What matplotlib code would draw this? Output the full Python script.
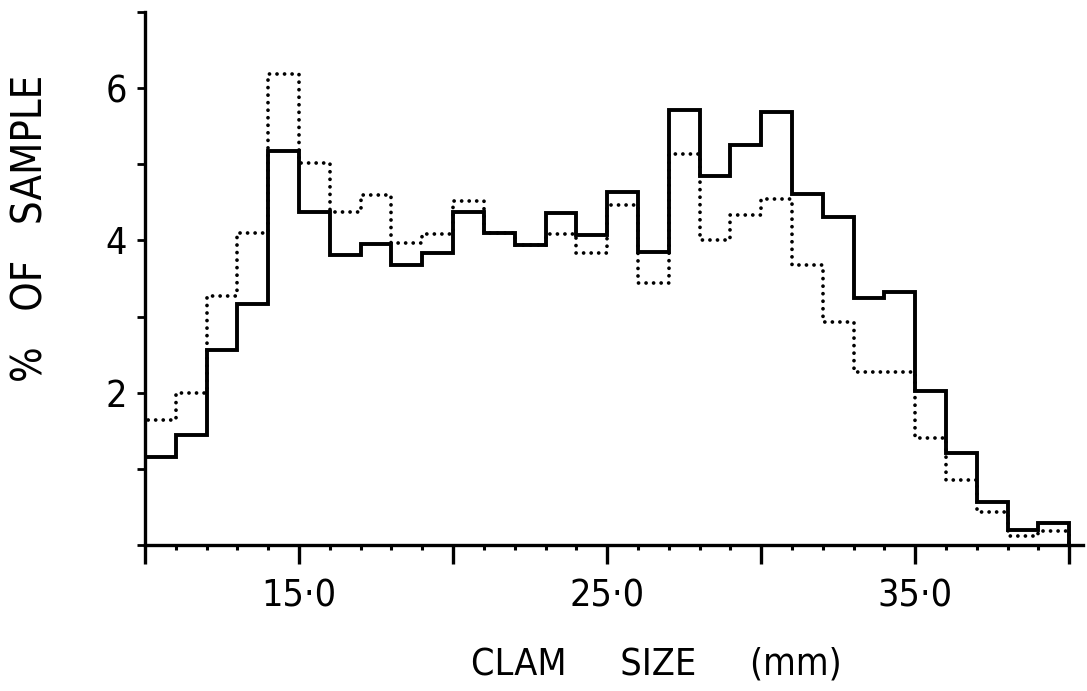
import numpy as np
import matplotlib.pyplot as plt

# clam size classes, 1 mm wide
bin_edges = list(range(10, 41))

# percentage of sample in each size class
solid_pct = [1.15, 1.44, 2.56, 3.17, 5.18, 4.38, 3.81, 3.95, 3.68, 3.84,
             4.37, 4.10, 3.94, 4.36, 4.07, 4.64, 3.85, 5.71, 4.85, 5.26,
             5.69, 4.61, 4.31, 3.25, 3.32, 2.02, 1.21, 0.57, 0.20, 0.29]
dotted_pct = [1.64, 2.00, 3.27, 4.10, 6.18, 5.02, 4.38, 4.60, 3.97, 4.09,
              4.52, 4.10, 3.94, 4.09, 3.83, 4.46, 3.44, 5.13, 4.01, 4.34,
              4.55, 3.68, 2.93, 2.27, 2.27, 1.40, 0.86, 0.43, 0.12, 0.19]

x_major = [10, 15, 20, 25, 30, 35, 40]
x_labels = ['', '15\u00b70', '', '25\u00b70', '', '35\u00b70', '']
y_ticks = [0, 1, 2, 3, 4, 5, 6, 7]
y_labels = ['', '', '2', '', '4', '', '6', '']

plt.rcParams['font.family'] = ['DejaVu Sans']
plt.rcParams['font.stretch'] = 'condensed'

fig = plt.figure(figsize=(10.87, 6.91), dpi=100)
ax = fig.add_axes([0.1334, 0.2113, 0.8630, 0.7713])

ax.stairs(dotted_pct, bin_edges, color='black', lw=2.7,
          linestyle=(0, (0.01, 2.0)), capstyle='round')
ax.stairs(solid_pct, bin_edges, color='black', lw=2.8)

ax.set_xlim(10, 40.45)
ax.set_ylim(0, 7)

for side in ['top', 'right']:
    ax.spines[side].set_visible(False)
for side in ['left', 'bottom']:
    ax.spines[side].set_linewidth(2.4)

ax.set_xticks(x_major)
ax.set_xticklabels(x_labels, fontsize=27)
ax.set_xticks(range(10, 41), minor=True)
ax.tick_params(axis='x', which='major', direction='out', length=14, width=2.4, pad=10)
ax.tick_params(axis='x', which='minor', direction='out', length=3.5, width=2.2)

ax.set_yticks(y_ticks)
ax.set_yticklabels(y_labels, fontsize=27)
ax.tick_params(axis='y', direction='out', length=6, width=2.0, pad=7)

ax.set_xlabel('CLAM     SIZE     (mm)', fontsize=27)
ax.xaxis.set_label_coords(0.545, -0.19)
ax.set_ylabel('%   OF   SAMPLE', fontsize=30)
ax.yaxis.set_label_coords(-0.100, 0.595)

fig.savefig('out.png', dpi=100)
